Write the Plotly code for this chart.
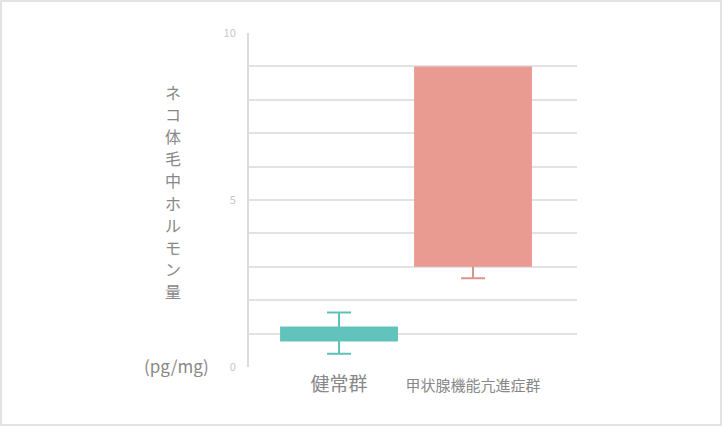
import plotly.graph_objects as go

# Groups and measured values (pg/mg)
groups = ["健常群", "甲状腺機能亢進症群"]
bar_low = [0.76, 3.0]
bar_high = [1.21, 9.0]
whisker_low = [0.40, 2.66]
whisker_high = [1.63, None]   # upper whisker hidden behind the bar
y_ticks = list(range(0, 11))
y_labels = ["0", "", "", "", "", "5", "", "", "", "", "10"]

BAR_COLORS = ["#62c3bd", "#e99b91"]
WHISKER_COLORS = ["#5fbfb9", "#d9958b"]

pos = list(range(len(groups)))
mid = [(lo + hi) / 2 for lo, hi in zip(bar_low, bar_high)]
plus = [(wh - m) if wh is not None else 0 for wh, m in zip(whisker_high, mid)]
minus = [m - wl for m, wl in zip(mid, whisker_low)]

fig = go.Figure()

# whiskers on the base axis, bars on an overlaying axis so they cover them
for i in pos:
    fig.add_trace(go.Scatter(
        x=[pos[i]], y=[mid[i]],
        mode="markers",
        marker=dict(opacity=0, size=1),
        error_y=dict(type="data", symmetric=False,
                     array=[plus[i]], arrayminus=[minus[i]],
                     color=WHISKER_COLORS[i], thickness=2, width=12),
        hoverinfo="skip",
        showlegend=False,
    ))

fig.add_trace(go.Bar(
    x=pos,
    y=[hi - lo for lo, hi in zip(bar_low, bar_high)],
    base=bar_low,
    width=0.88,
    marker=dict(color=BAR_COLORS, line=dict(width=0)),
    yaxis="y2",
    showlegend=False,
))

fig.update_xaxes(
    range=[-0.672, 1.776],
    tickvals=pos,
    ticktext=['<span style="font-size:19px">健常群</span>', groups[1]],
    tickfont=dict(size=15, color="#888888"),
    showgrid=False, zeroline=False, showline=False,
    ticks="", ticklabelstandoff=8,
)
fig.update_yaxes(
    range=[0, 10],
    tickvals=y_ticks, ticktext=y_labels,
    tickfont=dict(size=11, color="#c8c8c8"),
    showgrid=True, gridcolor="#e2e2e2", gridwidth=1.5,
    zeroline=False,
    showline=True, linecolor="#dcdcdc", linewidth=2,
    ticks="", ticklabelstandoff=9,
)
fig.update_layout(yaxis2=dict(
    overlaying="y", range=[0, 10], visible=False,
    showgrid=False, zeroline=False,
))

# vertical Japanese axis title, one character per line
title = "ネコ体毛中ホルモン量"
step = 22.1 / 334  # line pitch in paper units
top = (367 - 92) / 334
for k, ch in enumerate(title):
    fig.add_annotation(
        text=ch, xref="paper", yref="paper",
        x=-0.232, y=top - k * step, xanchor="center", yanchor="middle",
        showarrow=False, borderpad=0, borderwidth=0,
        font=dict(size=16, color="#888888"),
    )
fig.add_annotation(
    text="(pg/mg)", xref="paper", yref="paper",
    x=-0.22, y=0.003, xanchor="center", yanchor="middle", showarrow=False,
    font=dict(size=17, color="#888888"),
)

# light frame around the whole picture
fig.add_shape(
    type="rect", xref="paper", yref="paper",
    x0=-0.756, x1=1.439, y0=-0.174, y1=1.096,
    line=dict(color="#e3e3e3", width=2), layer="below",
)

fig.update_layout(
    width=722, height=426,
    margin=dict(l=249, r=145, t=33, b=59),
    paper_bgcolor="white", plot_bgcolor="white",
    font=dict(family="Noto Sans CJK JP, Noto Sans, sans-serif"),
)

fig.write_html("out.html", config={"displayModeBar": False},
               post_script="document.body.style.margin='0';")
